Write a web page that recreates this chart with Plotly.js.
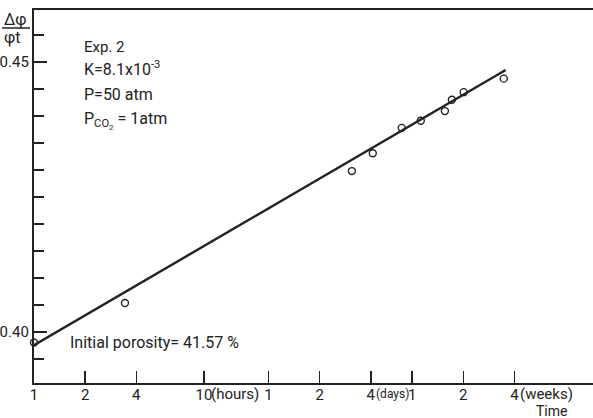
<!DOCTYPE html>
<html>
<head>
<meta charset="utf-8">
<script src="https://cdn.plot.ly/plotly-3.0.1.min.js"></script>
<style>html,body{margin:0;padding:0;background:#fff;}#chart{width:593px;height:418px;}</style>
</head>
<body>
<div id="chart"></div>
<script>
// Time in hours, porosity ratio
const timeHours = [1, 3.43, 74.3, 98.6, 146, 189, 262, 288, 338, 582];
const ratio = [0.3981, 0.4054, 0.4298, 0.4331, 0.4378, 0.4391, 0.4409, 0.4430, 0.4444, 0.4469];
const fitTime = [1, 597];
const fitRatio = [0.3976, 0.4485];
const tickHours = [1, 2, 4, 10, 24, 48, 96, 168, 336, 672];
const tickLabels = ['1', '2', '4', '10', '1', '2', '4', '1', '2', '4'];
const unitLabels = [['(hours)', 10, 5, 15], ['(days)', 96, 3, 12], ['(weeks)', 672, 4, 15]];

const FONT = 'Roboto, Lato, sans-serif';
const ink = '#222';

const traces = [
  {x: fitTime, y: fitRatio, mode: 'lines', line: {color: ink, width: 2.4}, cliponaxis: false, hoverinfo: 'skip'},
  {x: timeHours, y: ratio, mode: 'markers', cliponaxis: false,
   marker: {symbol: 'circle-open', size: 7, color: ink, line: {width: 1.4, color: ink}}}
];

const annotations = unitLabels.map(([t, h, sh, fs]) => ({
  xref: 'x', yref: 'paper', x: Math.log10(h), y: -0.0295, xanchor: 'left', yanchor: 'middle',
  xshift: sh, text: t, showarrow: false, font: {family: FONT, size: fs, color: ink}
}));
const P = (px) => (383 - px) / 373;
annotations.push(
  {xref: 'paper', yref: 'paper', x: 0.085, y: P(47), xanchor: 'left', yanchor: 'middle', text: 'Exp. 2', showarrow: false, font: {family: FONT, size: 15, color: ink}},
  {xref: 'paper', yref: 'paper', x: 0.085, y: P(68), xanchor: 'left', yanchor: 'middle', text: 'K=8.1x10<sup>-3</sup>', showarrow: false, font: {family: FONT, size: 16, color: ink}},
  {xref: 'paper', yref: 'paper', x: 0.085, y: P(94), xanchor: 'left', yanchor: 'middle', text: 'P=50 atm', showarrow: false, font: {family: FONT, size: 16, color: ink}},
  {xref: 'paper', yref: 'paper', x: 0.085, y: P(121), xanchor: 'left', yanchor: 'middle', text: 'P<sub>CO<sub>2</sub></sub> = 1atm', showarrow: false, font: {family: FONT, size: 16, color: ink}},
  {xref: 'paper', yref: 'paper', x: 0.061, y: P(342), xanchor: 'left', yanchor: 'middle', text: 'Initial porosity= 41.57 %', showarrow: false, font: {family: FONT, size: 16, color: ink}},
  {xref: 'paper', yref: 'paper', x: (551 - 34) / 559, y: P(411), xanchor: 'center', yanchor: 'middle', text: 'Time', showarrow: false, font: {family: FONT, size: 14, color: ink}},
  {xref: 'paper', yref: 'paper', x: (15 - 34) / 559, y: P(19), xanchor: 'center', yanchor: 'middle', text: 'Δφ', showarrow: false, font: {family: FONT, size: 16, color: ink}},
  {xref: 'paper', yref: 'paper', x: (13 - 34) / 559, y: P(37), xanchor: 'center', yanchor: 'middle', text: 'φt', showarrow: false, font: {family: FONT, size: 16, color: ink}}
);

const layout = {
  width: 593, height: 418,
  margin: {l: 34, r: 0, t: 10, b: 35},
  paper_bgcolor: '#fff', plot_bgcolor: '#fff',
  showlegend: false,
  font: {family: FONT, size: 15, color: ink},
  xaxis: {
    type: 'log', range: [0, 3.29],
    tickmode: 'array', tickvals: tickHours, ticktext: tickLabels,
    ticks: 'inside', ticklen: 12, tickwidth: 1.5, tickcolor: ink,
    ticklabelstandoff: -3,
    showline: true, linewidth: 2.2, linecolor: ink, mirror: true,
    showgrid: false, zeroline: false,
    tickfont: {family: FONT, size: 15, color: ink}
  },
  yaxis: {
    range: [0.3906, 0.4596],
    tickmode: 'array', tickvals: [0.40, 0.45], ticktext: ['0.40', '0.45'],
    ticks: 'inside', ticklen: 13, tickwidth: 1.5, tickcolor: ink,
    minor: {tickvals: [0.395, 0.405, 0.41, 0.415, 0.42, 0.425, 0.43, 0.435, 0.44, 0.445, 0.455], ticks: 'inside', ticklen: 10, tickwidth: 1.5, tickcolor: ink},
    showline: true, linewidth: 2.2, linecolor: ink,
    showgrid: false, zeroline: false,
    tickfont: {family: FONT, size: 15, color: ink}
  },
  shapes: [
    {type: 'line', xref: 'paper', yref: 'paper', x0: (2 - 34) / 559, x1: (30 - 34) / 559, y0: P(28), y1: P(28), line: {color: ink, width: 1.5}}
  ],
  annotations: annotations
};

Plotly.newPlot('chart', traces, layout, {displayModeBar: false, staticPlot: true});
</script>
</body>
</html>
